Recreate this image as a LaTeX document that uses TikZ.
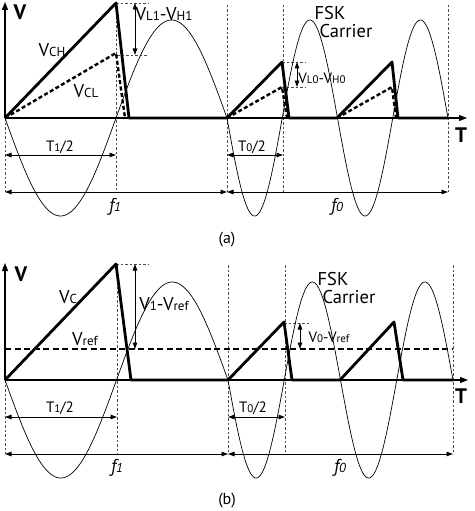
\documentclass[tikz,border=0pt]{standalone}
\usepackage{fontspec}
\setmainfont{PT Sans}
\usetikzlibrary{arrows.meta}
\newcommand{\smidx}[1]{{\fontsize{13}{13}\selectfont #1}}
\newcommand{\tnidx}[1]{{\fontsize{11}{11}\selectfont #1}}
\tikzset{
  wave/.style={line width=2.8pt, line join=round},
  wavedash/.style={line width=2.4pt, dash pattern=on 4pt off 2.5pt},
  refdash/.style={line width=2.4pt, dash pattern=on 6pt off 3.5pt},
  carrier/.style={line width=0.7pt},
  guide/.style={line width=0.6pt, dash pattern=on 2.5pt off 2pt, draw=black!70},
  axisarrow/.style={line width=1.3pt, -{Triangle[length=8pt,width=6pt]}},
  dimarrow/.style={line width=0.9pt, {Triangle[length=6.5pt,width=4.5pt]}-{Triangle[length=6.5pt,width=4.5pt]}},
  lbl/.style={font=\fontsize{18.5}{19}\selectfont, inner sep=0pt},
  lblsm/.style={font=\fontsize{15}{16}\selectfont, inner sep=0pt},
  axlbl/.style={font=\fontsize{21}{21}\selectfont\bfseries, inner sep=0pt},
  capt/.style={font=\fontsize{16}{17}\selectfont, inner sep=0pt},
}
\begin{document}
\begin{tikzpicture}[x=1pt, y=-1pt]
\useasboundingbox (0,0) rectangle (474,511);
% (a)
\draw[guide] (5,118) -- (5,192);
\foreach \gx/\gy in {116/3, 227/5, 283/5, 448/5}
  \draw[guide] (\gx,\gy) -- (\gx,192);
\draw[guide] (116,3) -- (148,3);
\draw[guide] (117,55) -- (148,55);
\draw[guide] (282,62) -- (305,62);
\draw[guide] (282,87) -- (305,87);
\draw[carrier] plot[domain=5:227, samples=120] (\x,{118+98*sin(1.62162*(\x-5))});
\draw[carrier] plot[domain=227:448, samples=200] (\x,{118+98*sin(3.25792*(\x-227))});
\draw[wavedash] (5,118) -- (116,53) -- (125,118);
\draw[wavedash] (227,118) -- (282,87) -- (287,118);
\draw[wavedash] (337,118) -- (392,87) -- (396,118);
\draw[wave] (5,118) -- (116,3) -- (129,118) -- (227,118) -- (282,62) -- (289,118)
  -- (337,118) -- (392,62) -- (398,118) -- (448,118);
\coordinate (ao) at (5,118);
\draw[axisarrow] (ao) -- (5,2);
\draw[axisarrow] (ao) -- (467,118);
\node[axlbl] (va) at (20,12) {V};
\node[axlbl] (ta) at (461,135) {T};
\coordinate (d1t) at (135,3);
\coordinate (d1b) at (135,55);
\draw[dimarrow] (d1t) -- (d1b);
\coordinate (d0t) at (297,62);
\coordinate (d0b) at (297,87);
\draw[dimarrow] (d0t) -- (d0b);
\coordinate (ha0) at (5,155);
\coordinate (ha1) at (116,155);
\coordinate (ha2) at (227,155);
\coordinate (ha3) at (283,155);
\draw[dimarrow] (ha0) -- (ha1);
\draw[dimarrow] (ha2) -- (ha3);
\coordinate (fa0) at (5,192);
\coordinate (fa1) at (227,192);
\coordinate (fa2) at (448,192);
\draw[dimarrow] (fa0) -- (fa1);
\draw[dimarrow] (fa1) -- (fa2);
\node[lbl] (vch) at (52,50) {V\smidx{CH}};
\node[lbl] (vcl) at (86,91) {V\smidx{CL}};
\node[lbl] (vl1) at (164,14) {V\smidx{L1}-V\smidx{H1}};
\node[lblsm] (vl0) at (322,78) {V\tnidx{L0}-V\tnidx{H0}};
\node[lbl] (fska) at (330,13) {FSK};
\node[lbl] (cara) at (346,31) {Carrier};
\node[lblsm] (t1a) at (60,147) {T\tnidx{1}/2};
\node[lblsm] (t0a) at (252,147) {T\tnidx{0}/2};
\node[lbl] (f1a) at (115,207) {\itshape f\smidx{1}};
\node[lbl] (f0a) at (337,207) {\itshape f\smidx{0}};
\node[capt] (capa) at (227,240) {(a)};
% (b)
\draw[guide] (5,380) -- (5,454);
\foreach \gx/\gy in {117/264, 228/265, 285/265, 453/265}
  \draw[guide] (\gx,\gy) -- (\gx,454);
\draw[guide] (116,264) -- (148,264);
\draw[guide] (284,323) -- (309,323);
\draw[carrier] plot[domain=5:228, samples=120] (\x,{380+98*sin(1.61435*(\x-5))});
\draw[carrier] plot[domain=228:453, samples=200] (\x,{380+98*sin(3.2*(\x-228))});
\draw[refdash] (5,349) -- (453,349);
\draw[wave] (5,380) -- (116,264) -- (131,380) -- (228,380) -- (284,322) -- (292,380)
  -- (340,380) -- (394,322) -- (403,380) -- (453,380);
\coordinate (bo) at (5,380);
\draw[axisarrow] (bo) -- (5,263);
\draw[axisarrow] (bo) -- (468,380);
\node[axlbl] (vb) at (21,274) {V};
\node[axlbl] (tb) at (461,396) {T};
\coordinate (e1t) at (135,264);
\coordinate (e1b) at (135,349);
\draw[dimarrow] (e1t) -- (e1b);
\coordinate (e0t) at (300,323);
\coordinate (e0b) at (300,349);
\draw[dimarrow] (e0t) -- (e0b);
\coordinate (hb0) at (5,417);
\coordinate (hb1) at (117,417);
\coordinate (hb2) at (228,417);
\coordinate (hb3) at (285,417);
\draw[dimarrow] (hb0) -- (hb1);
\draw[dimarrow] (hb2) -- (hb3);
\coordinate (fb0) at (5,454);
\coordinate (fb1) at (228,454);
\coordinate (fb2) at (453,454);
\draw[dimarrow] (fb0) -- (fb1);
\draw[dimarrow] (fb1) -- (fb2);
\node[lbl] (vc) at (68,297) {V\smidx{C}};
\node[lbl] (vref) at (85,339) {V\smidx{ref}};
\node[lbl] (v1r) at (164,304) {V\smidx{1}-V\smidx{ref}};
\node[lblsm] (v0r) at (329,337) {V\tnidx{0}-V\tnidx{ref}};
\node[lbl] (fskb) at (333,279) {FSK};
\node[lbl] (carb) at (349,297) {Carrier};
\node[lblsm] (t1b) at (60,408) {T\tnidx{1}/2};
\node[lblsm] (t0b) at (253,408) {T\tnidx{0}/2};
\node[lbl] (f1b) at (117,468) {\itshape f\smidx{1}};
\node[lbl] (f0b) at (340,468) {\itshape f\smidx{0}};
\node[capt] (capb) at (227,501) {(b)};
\end{tikzpicture}
\end{document}
